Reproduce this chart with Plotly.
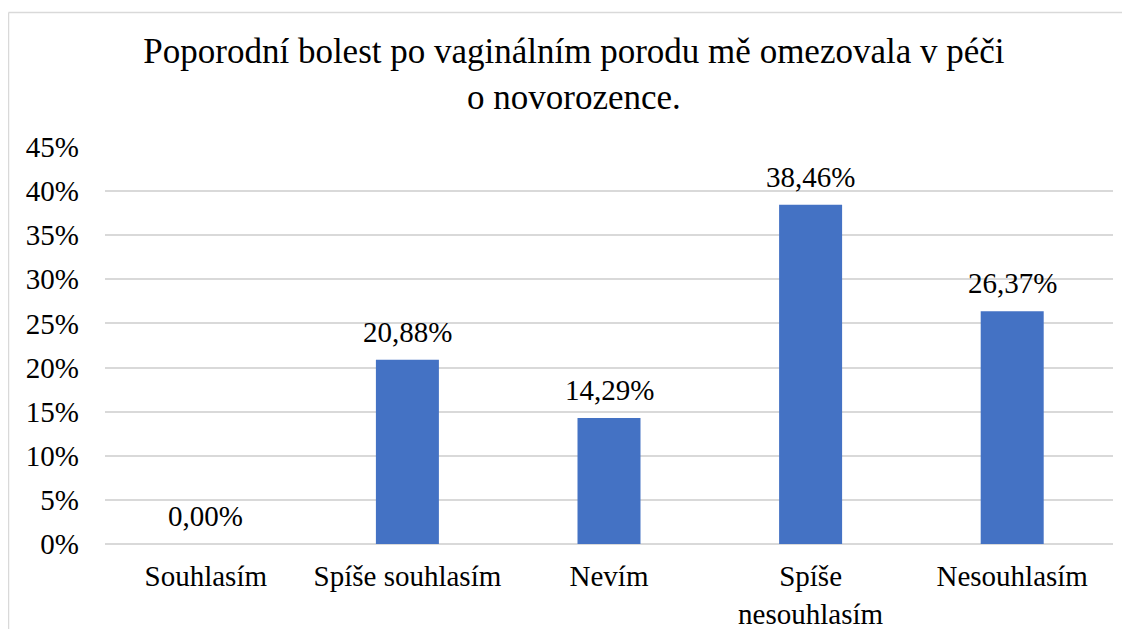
import plotly.graph_objects as go

categories = ["Souhlasím", "Spíše souhlasím", "Nevím", "Spíše<br>nesouhlasím", "Nesouhlasím"]
values = [0.00, 20.88, 14.29, 38.46, 26.37]
y_ticks = [0, 5, 10, 15, 20, 25, 30, 35, 40, 45]
y_tick_labels = [f"{t}%" for t in y_ticks]
labels = [f"{v:.2f}".replace(".", ",") + "%" for v in values]

# page has an 8px body margin; figure sized to fit the 1130x637 window
W, H = 1114, 621
L, R, T, B = 97, 9, 139, 85
pw, ph = W - L - R, H - T - B

FONT = "Liberation Serif, Times New Roman, serif"

fig = go.Figure(go.Bar(
    x=categories, y=values,
    marker_color="#4472c4", marker_line_width=0,
    hovertext=labels, hoverinfo="x+text",
))

# value labels placed above each bar through the data axes
for c, v, t in zip(categories, values, labels):
    fig.add_annotation(
        x=c, y=v, xref="x", yref="y", text=t, showarrow=False,
        yanchor="bottom", yshift=10,
        font=dict(family=FONT, size=29, color="#000000"),
    )

def px_x(p):
    return (p - L) / pw

def px_y(p):
    return (H - B - p) / ph

border = dict(color="#d9d9d9", width=1.5)

fig.update_layout(
    width=W, height=H,
    margin=dict(l=L, r=R, t=T, b=B, autoexpand=False),
    paper_bgcolor="white", plot_bgcolor="white",
    bargap=0.6875,
    showlegend=False,
    title=dict(
        text="Poporodní bolest po vaginálním porodu mě omezovala v péči<br>o novorozence.",
        x=0.508, xref="container", xanchor="center",
        y=1 - 55 / H, yref="container", yanchor="top",
        font=dict(family=FONT, size=35, color="#000000"),
    ),
    xaxis=dict(
        showgrid=False, showline=False, zeroline=False, ticks="",
        tickfont=dict(family=FONT, size=29, color="#000000"),
        ticklabelstandoff=12, automargin=False,
    ),
    yaxis=dict(
        range=[0, 45], tickvals=y_ticks, ticktext=y_tick_labels,
        showgrid=True, gridcolor="#d9d9d9", gridwidth=1.5,
        zeroline=True, zerolinecolor="#d9d9d9", zerolinewidth=1.5,
        showline=False, ticks="",
        tickfont=dict(family=FONT, size=29, color="#000000"),
        ticklabelstandoff=25, automargin=False,
    ),
    shapes=[
        dict(type="line", xref="paper", yref="paper",
             x0=px_x(0.5), x1=px_x(W + 20), y0=px_y(4.5), y1=px_y(4.5),
             line=border, layer="below"),
        dict(type="line", xref="paper", yref="paper",
             x0=px_x(0.5), x1=px_x(0.5), y0=px_y(H + 20), y1=px_y(4.5),
             line=border, layer="below"),
    ],
)

fig.write_html("out.html")
